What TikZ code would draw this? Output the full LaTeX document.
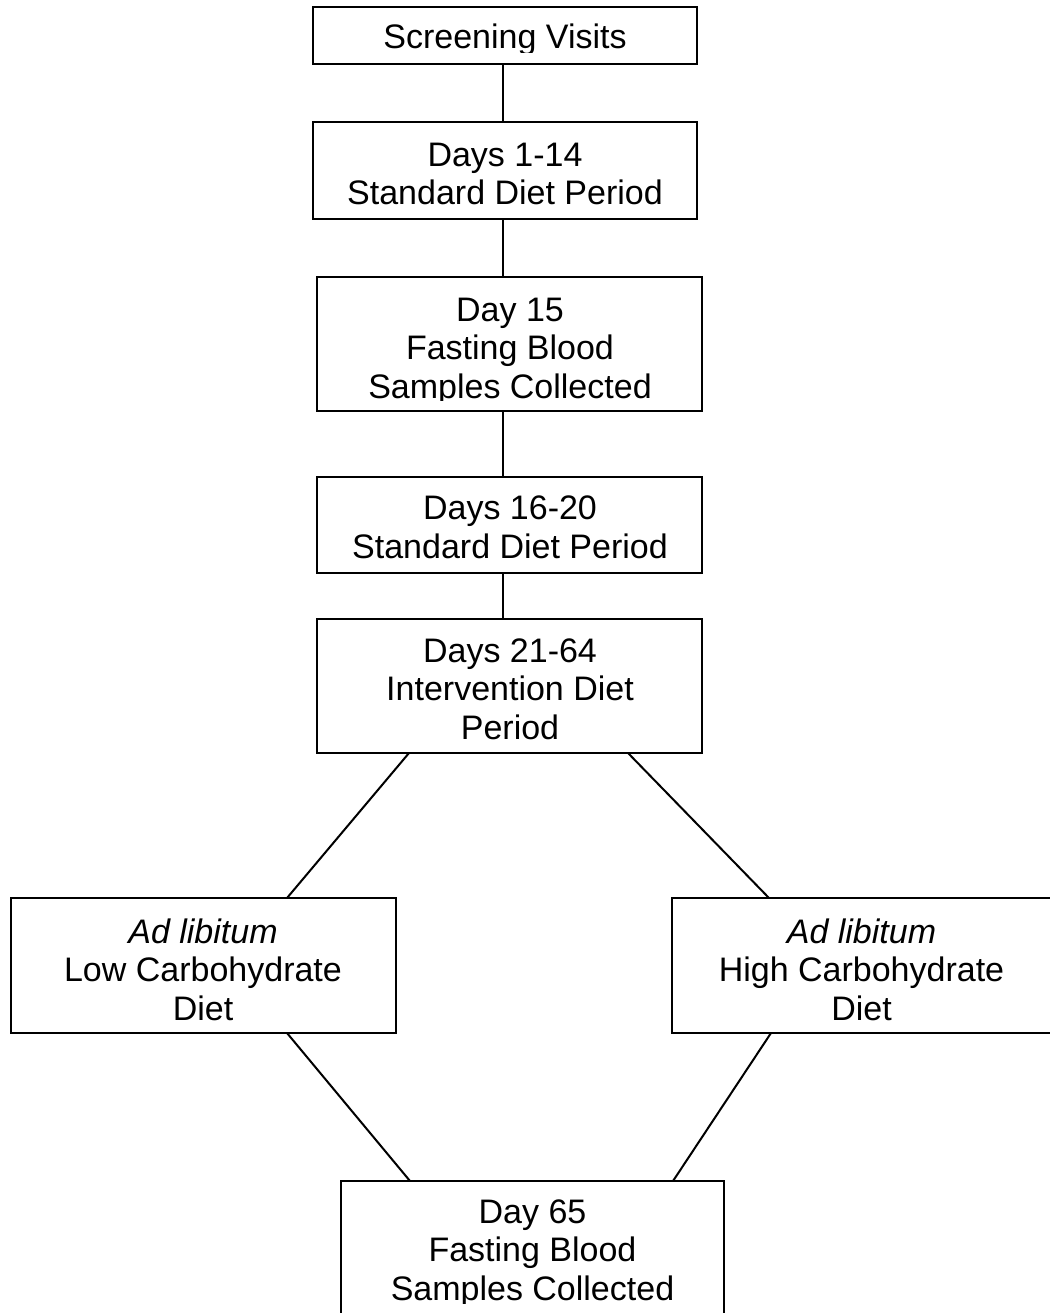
\documentclass[tikz,border=0pt]{standalone}
\usepackage{fontspec}
\setmainfont{Liberation Sans}
\usetikzlibrary{calc}
\tikzset{
  box/.style={draw=black, line width=2pt, rectangle, inner sep=0pt, outer sep=0pt},
  txt/.style={anchor=base, align=center, inner sep=0pt, font=\fontsize{34}{38.5}\selectfont, text=black},
  conn/.style={draw=black, line width=2pt}
}
\begin{document}
\begin{tikzpicture}[x=1pt,y=-1pt]
\useasboundingbox (0,0) rectangle (1049,1313);
% boxes
\node[box, minimum width=384pt, minimum height=57pt]  (b1) at (505,35.5) {};
\node[box, minimum width=384pt, minimum height=97pt]  (b2) at (505,170.5) {};
\node[box, minimum width=385pt, minimum height=134pt] (b3) at (509.5,344) {};
\node[box, minimum width=385pt, minimum height=96pt]  (b4) at (509.5,525) {};
\node[box, minimum width=385pt, minimum height=134pt] (b5) at (509.5,686) {};
\node[box, minimum width=385pt, minimum height=135pt] (b6) at (203.5,965.5) {};
\node[box, minimum width=380pt, minimum height=135pt] (b7) at (862,965.5) {};
\node[box, minimum width=383pt, minimum height=134pt] (b8) at (532.5,1248) {};
% texts (anchored at the baseline of their last line; clipped to the box interior as in the reference)
\begin{scope}
  \clip ([yshift=-3pt]b1.north west) rectangle ([yshift=11pt]b1.south east);
  \node[txt] (t1) at (505,49) {Screening Visits};
\end{scope}
\node[txt] (t2) at (505,205) {Days 1-14\\Standard Diet Period};
\begin{scope}
  \clip ([yshift=-3pt]b3.north west) rectangle ([yshift=11pt]b3.south east);
  \node[txt] (t3) at (510,398) {Day 15\\Fasting Blood\\Samples Collected};
\end{scope}
\node[txt] (t4) at (510,558) {Days 16-20\\Standard Diet Period};
\node[txt] (t5) at (510,739) {Days 21-64\\Intervention Diet\\Period};
\node[txt] (t6) at (203,1020) {\textit{Ad libitum}\\Low Carbohydrate\\Diet};
\node[txt] (t7) at (861.5,1020) {\textit{Ad libitum}\\High Carbohydrate\\Diet};
\begin{scope}
  \clip ([yshift=-3pt]b8.north west) rectangle ([yshift=12pt]b8.south east);
  \node[txt] (t8) at (532.5,1300) {Day 65\\Fasting Blood\\Samples Collected};
\end{scope}
% connectors
\coordinate (spine) at (502.5,0);
\draw[conn] (b1.south -| spine) -- (b2.north -| spine);
\draw[conn] (b2.south -| spine) -- (b3.north -| spine);
\draw[conn] (b3.south -| spine) -- (b4.north -| spine);
\draw[conn] (b4.south -| spine) -- (b5.north -| spine);
\draw[conn] ([xshift=92pt]b5.south west) -- ([xshift=276pt]b6.north west);
\draw[conn] ([xshift=311pt]b5.south west) -- ([xshift=97pt]b7.north west);
\draw[conn] ([xshift=276pt]b6.south west) -- ([xshift=69pt]b8.north west);
\draw[conn] ([xshift=99pt]b7.south west) -- ([xshift=332pt]b8.north west);
\end{tikzpicture}
\end{document}
